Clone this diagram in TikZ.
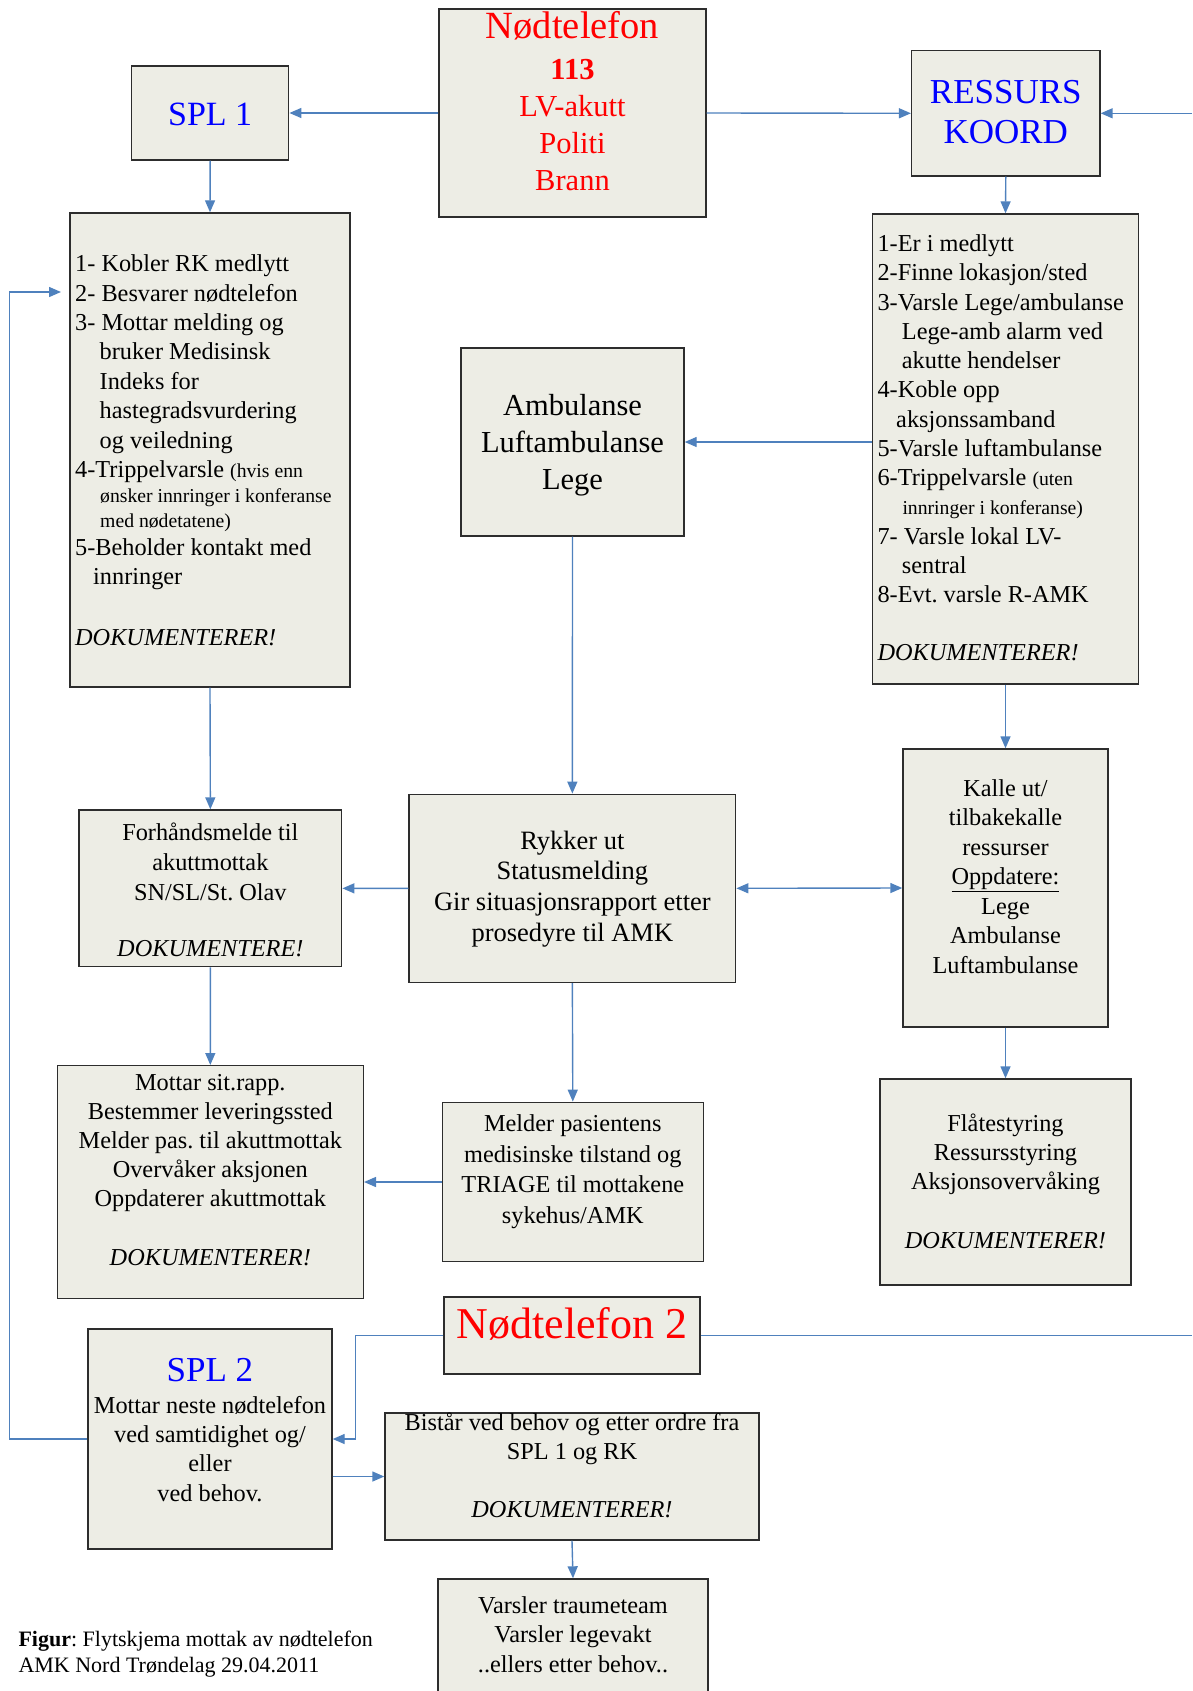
\documentclass[tikz,border=0pt]{standalone}
\usepackage{fontspec}
\setmainfont{Liberation Serif}
\usetikzlibrary{arrows.meta}
\definecolor{boxfill}{RGB}{237,237,229}
\definecolor{boxline}{RGB}{45,45,45}
\definecolor{flowblue}{RGB}{79,129,189}
\definecolor{telred}{RGB}{255,0,0}
\definecolor{splblue}{RGB}{0,0,255}
\newcommand\setfs[2]{\fontsize{#1}{#2}\selectfont\spaceskip=\fontdimen2\font\relax\xspaceskip=\fontdimen2\font\relax}
\newcommand\myS{\setfs{19.7}{25}}
\tikzset{
  bx/.style={draw=boxline, fill=boxfill, line width=1.4pt, inner sep=0pt, rectangle},
  txt/.style={inner sep=0pt, anchor=base, align=center},
  ltxt/.style={inner sep=0pt, anchor=base west, align=left},
  flow/.style={draw=flowblue, line width=1.4pt, -{Triangle[length=12pt,width=10pt]}},
  flowboth/.style={draw=flowblue, line width=1.4pt, {Triangle[length=12pt,width=10pt]}-{Triangle[length=12pt,width=10pt]}},
  plain/.style={draw=flowblue, line width=1.4pt}
}
\begin{document}
\begin{tikzpicture}[x=1pt,y=-1pt]
\useasboundingbox (0,0) rectangle (1192,1691);

% boxes
\node[bx, minimum width=267pt, minimum height=208pt] (nod) at (572.5,113) {};
\node[bx, minimum width=157pt, minimum height=94pt] (spl1) at (210.2,113) {};
\node[bx, minimum width=188.3pt, minimum height=125.3pt] (res) at (1005.8,113.3) {};
\node[bx, minimum width=280pt, minimum height=474pt] (list1) at (210,450) {};
\node[bx, minimum width=266.4pt, minimum height=470pt] (list2) at (1005.5,449) {};
\node[bx, minimum width=223pt, minimum height=188pt] (amb) at (572.5,442) {};
\node[bx, minimum width=326.7pt, minimum height=188pt] (rykk) at (572.35,888.3) {};
\node[bx, minimum width=262.7pt, minimum height=156.7pt] (forh) at (210.35,888.35) {};
\node[bx, minimum width=205pt, minimum height=278pt] (kalle) at (1005.5,888) {};
\node[bx, minimum width=251pt, minimum height=206pt] (flate) at (1005.5,1182) {};
\node[bx, minimum width=306pt, minimum height=232.6pt] (mottar) at (210.3,1182) {};
\node[bx, minimum width=261pt, minimum height=159.4pt] (melder) at (572.8,1182) {};
\node[bx, minimum width=256pt, minimum height=77pt] (nod2) at (572,1335.5) {};
\node[bx, minimum width=244pt, minimum height=220pt] (spl2) at (210,1439) {};
\node[bx, minimum width=374pt, minimum height=127pt] (bist) at (572,1476.5) {};
\node[bx, minimum width=270pt, minimum height=121pt] (varsl) at (573,1639.5) {};

% texts
\node[txt, text width=260pt, text=telred] (nodt) at (572.5,39)
 {\setfs{38.5}{41}Nødtelefon\par
  \setfs{30.5}{41}\bfseries 113\par
  \mdseries\setfs{30.5}{37}LV-akutt\par Politi\par Brann\par};
\node[txt, text width=150pt, text=splblue] (spl1t) at (210.2,125)
 {\setfs{34}{40}SPL 1};
\node[txt, text width=185pt, text=splblue] (rest) at (1005.8,103.3)
 {\setfs{35}{40.7}RESSURS\par KOORD\par};
\node[ltxt, text width=300pt] (list1t) at (75,271.7)
 {\setfs{24.3}{29.4}%
  1- Kobler RK medlytt\par
  2- Besvarer nødtelefon\par
  3- Mottar melding og\par
  \hspace*{24.5pt}bruker Medisinsk\par
  \hspace*{24.5pt}Indeks for\par
  \hspace*{24.5pt}hastegradsvurdering\par
  \hspace*{24.5pt}og veiledning\par
  4-Trippelvarsle {\myS (hvis enn}\par
  \myS\hspace*{25pt}ønsker innringer i konferanse\par
  \hspace*{25pt}med nødetatene)\par
  \setfs{24.3}{27.5}5-Beholder kontakt med\par
  \setfs{24.3}{29.4}\hspace*{18pt}innringer\par
  \setfs{24.3}{30.5}\mbox{}\par
  \textit{DOKUMENTERER!}\par};
\node[ltxt, text width=300pt] (list2t) at (877.3,251.7)
 {\setfs{24.3}{29.25}%
  1-Er i medlytt\par
  2-Finne lokasjon/sted\par
  3-Varsle Lege/ambulanse\par
  \hspace*{24.4pt}Lege-amb alarm ved\par
  \hspace*{24.4pt}akutte hendelser\par
  4-Koble opp\par
  \hspace*{18.7pt}aksjonssamband\par
  5-Varsle luftambulanse\par
  6-Trippelvarsle {\myS (uten}\par
  {\myS\hspace*{25pt}innringer i konferanse)}\par
  7- Varsle lokal LV-\par
  \hspace*{24.4pt}sentral\par
  8-Evt. varsle R-AMK\par
  \setfs{24.3}{28.65}\mbox{}\par
  \textit{DOKUMENTERER!}\par};
\node[txt, text width=220pt] (ambt) at (572.5,415)
 {\setfs{30.5}{37}Ambulanse\par Luftambulanse\par Lege\par};
\node[txt, text width=320pt] (rykkt) at (572.35,849)
 {\setfs{26.5}{30.7}Rykker ut\par Statusmelding\par Gir situasjonsrapport etter\par prosedyre til AMK\par};
\node[txt, text width=255pt] (forht) at (210.35,840.7)
 {\setfs{24.3}{29.65}Forhåndsmelde til\par akuttmottak\par SN/SL/St. Olav\par
  \setfs{24.3}{28.35}\mbox{}\par \textit{DOKUMENTERE!}\par};
\node[txt, text width=200pt] (kallet) at (1005.5,796)
 {\setfs{24.3}{29.5}Kalle ut/\par tilbakekalle\par ressurser\par \underline{Oppdatere:}\par Lege\par Ambulanse\par Luftambulanse\par};
\node[txt, text width=245pt] (flatet) at (1005.5,1131.8)
 {\setfs{24.3}{28.8}Flåtestyring\par Ressursstyring\par Aksjonsovervåking\par
  \setfs{24.3}{29.5}\mbox{}\par \textit{DOKUMENTERER!}\par};
\node[txt, text width=300pt] (mottart) at (210.3,1090)
 {\setfs{24.3}{29}Mottar sit.rapp.\par Bestemmer leveringssted\par Melder pas. til akuttmottak\par Overvåker aksjonen\par Oppdaterer akuttmottak\par
  \setfs{24.3}{29.5}\mbox{}\par \textit{DOKUMENTERER!}\par};
\node[txt, text width=255pt] (meldert) at (572.8,1131.7)
 {\setfs{24.3}{30.5}Melder pasientens\par medisinske tilstand og\par TRIAGE til mottakene\par sykehus/AMK\par};
\node[txt, text width=250pt, text=telred] (nod2t) at (572,1338)
 {\setfs{44}{48}Nødtelefon 2};
\node[txt, text width=244pt] (spl2t) at (210,1381)
 {\setfs{35}{40}\textcolor{splblue}{SPL 2}\par
  \setfs{24.3}{32.3}Mottar neste nødtelefon\par
  \setfs{24.3}{29.3}ved samtidighet og/\par eller\par ved behov.\par};
\node[txt, text width=370pt] (bistt) at (572,1430)
 {\setfs{24.3}{29.2}Bistår ved behov og etter ordre fra\par SPL 1 og RK\par\mbox{}\par \textit{DOKUMENTERER!}\par};
\node[txt, text width=265pt] (varslt) at (573,1613)
 {\setfs{24.3}{29.5}Varsler traumeteam\par Varsler legevakt\par ..ellers etter behov..\par};
\node[ltxt, text width=420pt] (caption) at (18.3,1646)
 {\setfs{22}{26.7}\textbf{Figur}: Flytskjema mottak av nødtelefon\par AMK Nord Trøndelag 29.04.2011\par};

% connectors
\coordinate (eR1) at (1192,113.3);
\coordinate (eR2) at (1192,1335.5);
\coordinate (n2bend) at (355.3,1335.5);
\coordinate (fbA) at (9.3,1439);
\coordinate (fbB) at (61,292);

\draw[flow] (nod.west) -- (spl1.east);
\draw[flow] (nod.east) -- (res.west);
\draw[flow] (eR1) -- (res.east);
\draw[flow] (spl1.south) -- (list1.north);
\draw[flow] (res.south) -- (list2.north);
\draw[flow] (list2.west |- amb.east) -- (amb.east);
\draw[flow] (list1.south) -- (forh.north);
\draw[flow] (amb.south) -- (rykk.north);
\draw[flow] (list2.south) -- (kalle.north);
\draw[flow] (rykk.west) -- (forh.east);
\draw[flowboth] (rykk.east) -- (kalle.west);
\draw[flow] (forh.south) -- (mottar.north);
\draw[flow] (rykk.south) -- (melder.north);
\draw[flow] (kalle.south) -- (flate.north);
\draw[flow] (melder.west) -- (mottar.east);
\draw[flow] (nod2.west) -- (n2bend) |- (spl2.east);
\draw[plain] (nod2.east) -- (eR2);
\draw[flow] (spl2.west) -- (fbA) |- (fbB);
\draw[flow] (spl2.east |- bist.west) -- (bist.west);
\draw[flow] (bist.south) -- (varsl.north);
\end{tikzpicture}
\end{document}
